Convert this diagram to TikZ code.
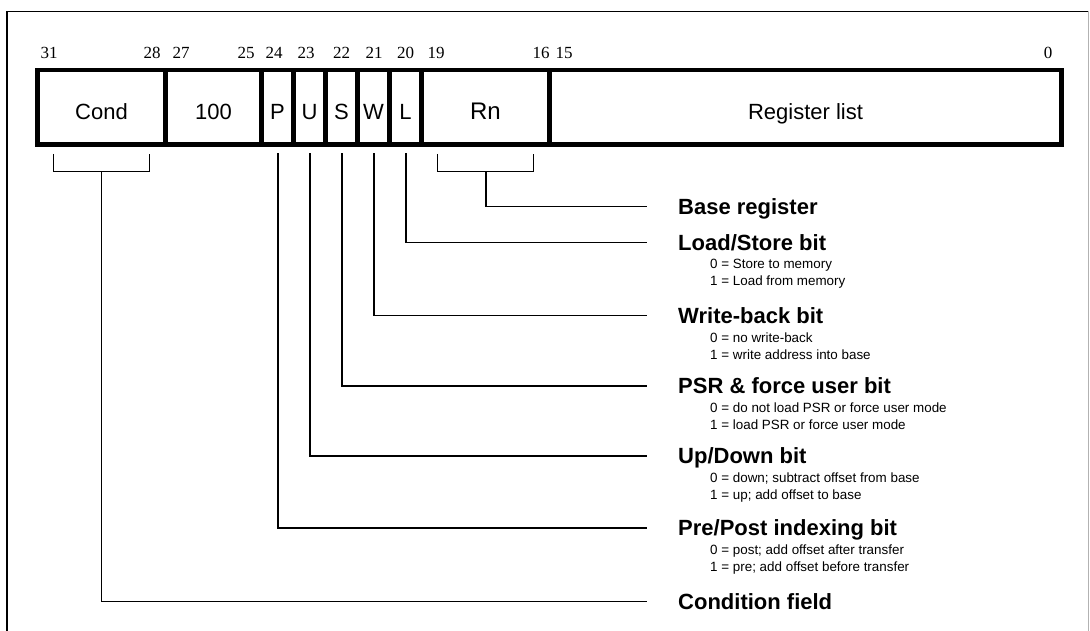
\documentclass[tikz,border=0pt]{standalone}
\usepackage{fontspec}
\setmainfont{Liberation Serif}
\setsansfont{Liberation Sans}
\usepackage{tikz}
\begin{document}
\begin{tikzpicture}[x=1pt,y=-1pt]
\tikzset{field/.style={draw,line width=4.8pt,minimum height=74.5pt,inner sep=0pt,text height=23.7pt,text depth=0pt,font=\sffamily\fontsize{22}{22}\selectfont},
bitnum/.style={anchor=base,inner sep=0pt,font=\fontsize{17}{17}\selectfont},
title/.style={anchor=west,inner sep=0pt,text height=15.7pt,text depth=0pt,font=\sffamily\bfseries\fontsize{22}{22}\selectfont},
sub/.style={anchor=base west,inner sep=0pt,font=\sffamily\fontsize{13.4}{13.4}\selectfont},
conn/.style={line width=1.2pt},
brace/.style={line width=1.6pt}}
\useasboundingbox (0,0) rectangle (1090,631);
\draw[line width=1.3pt] (7,631) -- (7,11.5) -- (1088,11.5);
\draw[gray!60,line width=0.8pt] (1088,11.5) -- (1088,631);
%
\foreach \b/\x in {31/49,28/152,27/181,25/246,24/274,23/306,22/341.5,21/374,20/405.5,19/436,16/541,15/564,0/1048}
  \node[bitnum] (n\b) at (\x,59) {\b};
\node[field,minimum width=128pt] (cond) at (101.5,107.3) {Cond};
\node[field,minimum width=96pt] (hundred) at (213.5,107.3) {100};
\node[field,minimum width=32pt] (p) at (277.5,107.3) {P};
\node[field,minimum width=32pt] (u) at (309.5,107.3) {U};
\node[field,minimum width=32pt] (s) at (341.5,107.3) {S};
\node[field,minimum width=32pt] (w) at (373.5,107.3) {W};
\node[field,minimum width=32pt] (l) at (405.5,107.3) {L};
\node[field,minimum width=128pt,text height=25.2pt,font=\sffamily\fontsize{24}{24}\selectfont] (rn) at (485.5,107.3) {Rn};
\node[field,minimum width=512pt] (reglist) at (805.5,107.3) {Register list};
%
\node[title] (base) at (678,206.5) {Base register};
\node[title] (loadstore) at (678,242.5) {Load/Store bit};
\node[sub] (ls0) at (710,269) {0 = Store to memory};
\node[sub] (ls1) at (710,286) {1 = Load from memory};
\node[title] (writeback) at (678,315.5) {Write-back bit};
\node[sub] (wb0) at (710,342) {0 = no write-back};
\node[sub] (wb1) at (710,359) {1 = write address into base};
\node[title] (psr) at (678,386) {PSR \& force user bit};
\node[sub] (psr0) at (710,412.5) {0 = do not load PSR or force user mode};
\node[sub] (psr1) at (710,429.5) {1 = load PSR or force user mode};
\node[title] (updown) at (678,456) {Up/Down bit};
\node[sub] (ud0) at (710,482.5) {0 = down; subtract offset from base};
\node[sub] (ud1) at (710,499.5) {1 = up; add offset to base};
\node[title] (prepost) at (678,528) {Pre/Post indexing bit};
\node[sub] (pp0) at (710,554.5) {0 = post; add offset after transfer};
\node[sub] (pp1) at (710,571.5) {1 = pre; add offset before transfer};
\node[title] (condfield) at (678,601.5) {Condition field};
%
\coordinate (condA) at (53.5,154);
\coordinate (condB) at (149.5,154);
\coordinate (condM) at (101.5,171.7);
\coordinate (rnA) at (437.5,154);
\coordinate (rnB) at (533.5,154);
\coordinate (rnM) at (486,171.7);
\draw[brace] (condA) -- ++(0,17.7) -| (condB);
\draw[brace] (rnA) -- ++(0,17.7) -| (rnB);
\draw[conn] (condM) |- ([xshift=-31pt]condfield.west);
\draw[conn] (rnM) |- ([xshift=-31pt]base.west);
\draw[conn] ([xshift=0.5pt,yshift=-6.5pt]l.south) |- ([xshift=-31pt]loadstore.west);
\draw[conn] ([xshift=0.5pt,yshift=-6.5pt]w.south) |- ([xshift=-31pt]writeback.west);
\draw[conn] ([xshift=0.5pt,yshift=-6.5pt]s.south) |- ([xshift=-31pt]psr.west);
\draw[conn] ([xshift=0.5pt,yshift=-6.5pt]u.south) |- ([xshift=-31pt]updown.west);
\draw[conn] ([xshift=0.5pt,yshift=-6.5pt]p.south) |- ([xshift=-31pt]prepost.west);
\end{tikzpicture}
\end{document}
